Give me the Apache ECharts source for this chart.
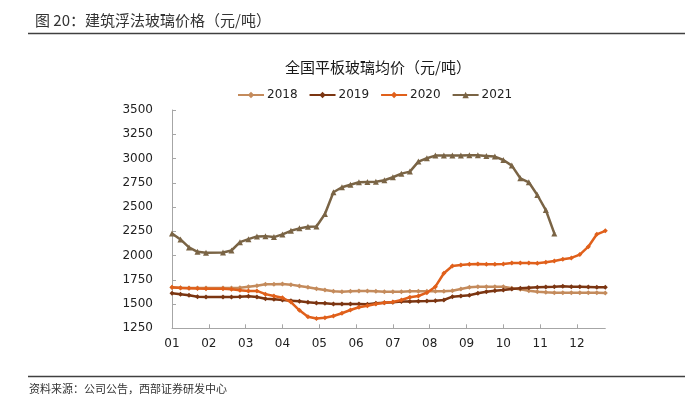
<!DOCTYPE html>
<html>
<head>
<meta charset="utf-8">
<script src="https://cdn.jsdelivr.net/npm/echarts@6/dist/echarts.min.js"></script>
<style>html,body{margin:0;padding:0;background:#fff}#c{width:696px;height:399px}</style>
</head>
<body>
<div id="c"></div>
<script>
// ---- data (weekly samples; index = week of year, null = no quote that week) ----
var monthLabels = ['01','02','03','04','05','06','07','08','09','10','11','12'];
var seriesNames = ['2018','2019','2020','2021'];
var yTicks = [1250,1500,1750,2000,2250,2500,2750,3000,3250,3500];

var p2018 = [1670,1668,1666,1665,1665,null,1665,1666,1669,1679,1689,1704,1704,1707,1700,1686,1673,1658,1645,1631,1627,1631,1635,1635,1631,1627,1627,1627,1631,1631,1631,1631,1631,1638,1655,1673,1679,1679,1679,1679,1662,1652,1638,1627,1621,1617,1617,1617,1617,1617,1617,1615];
var p2019 = [1611,1601,1590,1576,1573,null,1573,1573,1576,1580,1573,1555,1549,1542,1535,1528,1518,1512,1508,1500,1500,1500,1500,1497,1508,1514,1518,1525,1525,1528,1531,1535,1542,1576,1583,1590,1611,1627,1638,1645,1655,1662,1669,1673,1676,1679,1683,1679,1679,1676,1673,1673];
var p2020 = [1673,1666,1664,1660,1658,null,1658,1652,1642,1635,1635,1602,1583,1565,1520,1435,1368,1352,1359,1377,1405,1439,1467,1483,1500,1514,1521,1542,1570,1583,1617,1679,1817,1892,1902,1910,1913,1910,1910,1913,1923,1923,1923,1920,1930,1944,1961,1975,2010,2091,2219,2255];
var p2021 = [2228,2166,2084,2038,2028,null,2032,2052,2138,2169,2197,2200,2190,2218,2255,2280,2296,2300,2428,2652,2704,2730,2755,2758,2761,2776,2807,2844,2865,2968,3003,3030,3030,3030,3030,3034,3034,3027,3020,2985,2927,2796,2755,2624,2469,2228];

var colors = ['#C48B5C','#7B3511','#E0601B','#7A6445'];
var symbols = ['diamond','diamond','diamond','triangle'];
var weeksPerYear = 52;

function toPairs(arr){ return arr.map(function(v,i){ return [i, v]; }); }
var allData = [p2018,p2019,p2020,p2021];
var monthPos = monthLabels.map(function(m,i){ return i*weeksPerYear/12; });

var chart = echarts.init(document.getElementById('c'));
var font = 'DejaVu Sans, sans-serif';
var cjk = '"Noto Sans CJK SC", sans-serif';

chart.setOption({
  animation:false,
  backgroundColor:'#fff',
  title:[
    {text:'图 20：建筑浮法玻璃价格（元/吨）', left:30, top:8,
     textStyle:{fontFamily:cjk, fontSize:15, fontWeight:'normal', color:'#333'}},
    {text:'全国平板玻璃均价（元/吨）', left:280, top:55,
     textStyle:{fontFamily:cjk, fontSize:15, fontWeight:'normal', color:'#1a1a1a'}}
  ],
  legend:{
    data:seriesNames, left:232, top:84, itemWidth:26, itemHeight:8, itemGap:11,
    textStyle:{fontFamily:font, fontSize:12, color:'#222', padding:[0,0,0,-2]}
  },
  grid:{left:172, right:90.7, top:110, bottom:70.7, containLabel:false},
  xAxis:{
    type:'value', min:0, max:51,
    axisLine:{show:true, lineStyle:{color:'#a6a6a6', width:1}},
    axisTick:{show:true, inside:true, length:4, customValues:monthPos, lineStyle:{color:'#a6a6a6'}},
    axisLabel:{customValues:monthPos, margin:10, fontFamily:font, fontSize:12, color:'#222',
      formatter:function(v){ var k=Math.round(v*12/weeksPerYear); return (Math.abs(v-k*weeksPerYear/12)<0.01 && monthLabels[k])?monthLabels[k]:''; }},
    splitLine:{show:false}
  },
  yAxis:{
    type:'value', min:yTicks[0], max:yTicks[yTicks.length-1], interval:250,
    axisLine:{show:true, lineStyle:{color:'#a6a6a6', width:1}},
    axisTick:{show:true, inside:true, length:4, lineStyle:{color:'#a6a6a6'}},
    axisLabel:{margin:19, fontFamily:font, fontSize:12, color:'#222',
      formatter:function(v){ return String(v); }},
    splitLine:{show:false}
  },
  series: seriesNames.map(function(n,i){
    return {
      name:n, type:'line', data:toPairs(allData[i]), connectNulls:true,
      symbol:symbols[i], symbolSize:i===3?6:5, showSymbol:true,
      lineStyle:{color:colors[i], width:2.5},
      itemStyle:{color:colors[i]},
      z:2+i
    };
  }),
  graphic:[
    {type:'line', shape:{x1:28,y1:33.5,x2:685,y2:33.5}, style:{stroke:'#404040', lineWidth:1.5}},
    {type:'line', shape:{x1:28,y1:376.5,x2:685,y2:376.5}, style:{stroke:'#404040', lineWidth:1.5}},
    {type:'text', left:29, top:383, style:{text:'资料来源：公司公告，西部证券研发中心', fontFamily:cjk, fontSize:11, fill:'#333'}}
  ]
});
</script>
</body>
</html>
